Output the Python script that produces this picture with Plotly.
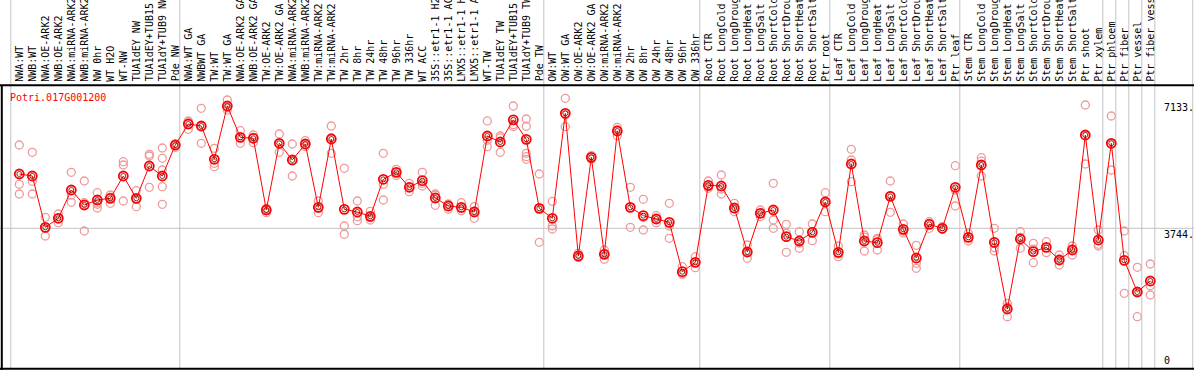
import plotly.graph_objects as go

title = "Potri.017G001200"

categories = [
    "NWA:WT", "NWB:WT", "NWA:OE-ARK2", "NWB:OE-ARK2", "NWA:miRNA-ARK2", "NWB:miRNA-ARK2",
    "NW 0hr", "WT H2O", "WT-NW", "TUA1dEY NW", "TUA1dEY+TUB15 NW", "TUA1dY+TUB9 NW", "Pde NW",
    "NWA:WT GA", "NWBWT GA", "TW:WT", "TW:WT GA", "NWA:OE-ARK2 GA", "NWB:OE-ARK2 GA",
    "TW:OE-ARK2", "TW:OE-ARK2 GA", "NWA:miRNA-ARK2 GA", "NWB:miRNA-ARK2 GA", "TW:miRNA-ARK2",
    "TW:miRNA-ARK2 GA", "TW 2hr", "TW 8hr", "TW 24hr", "TW 48hr", "TW 96hr", "TW 336hr",
    "WT ACC", "35S::etr1-1 H2O", "35S::etr1-1 ACC", "LMX5::etr1-1 H2O", "LMX5::etr1-1 ACC",
    "WT-TW", "TUA1dEY TW", "TUA1dEY+TUB15 TW", "TUA1dY+TUB9 TW", "Pde TW",
    "OW:WT", "OW:WT GA", "OW:OE-ARK2", "OW:OE-ARK2 GA", "OW:miRNA-ARK2", "OW:miRNA-ARK2 GA",
    "OW 2hr", "OW 8hr", "OW 24hr", "OW 48hr", "OW 96hr", "OW 336hr",
    "Root CTR", "Root LongCold", "Root LongDrought", "Root LongHeat", "Root LongSalt",
    "Root ShortCold", "Root ShortDrought", "Root ShortHeat", "Root ShortSalt", "Ptr root",
    "Leaf CTR", "Leaf LongCold", "Leaf LongDrought", "Leaf LongHeat", "Leaf LongSalt",
    "Leaf ShortCold", "Leaf ShortDrought", "Leaf ShortHeat", "Leaf ShortSalt", "Ptr leaf",
    "Stem CTR", "Stem LongCold", "Stem LongDrought", "Stem LongHeat", "Stem LongSalt",
    "Stem ShortCold", "Stem ShortDrought", "Stem ShortHeat", "Stem ShortSalt", "Ptr shoot",
    "Ptr xylem", "Ptr phloem", "Ptr fiber", "Ptr vessel", "Ptr fiber vessel",
]

# index of first category of each group (group separators drawn before these)
group_starts = [0, 13, 41, 53, 63, 73, 84, 85, 86, 87, 88]

mean_values = [
    5189, 5136, 3770, 4010, 4763, 4364, 4497, 4542, 5136, 4542, 5402, 5136, 5961,
    6519, 6466, 5580, 6998, 6165, 6139, 4231, 6006, 5562, 5987, 4302, 6120, 4249,
    4178, 4063, 5048, 5234, 4835, 5011, 4550, 4337, 4302, 4178, 6200, 6041, 6630,
    6112, 4276,
    4010, 6804, 3007, 5633, 3052, 6333, 4302, 4080, 3992, 3903, 2589, 2839,
    4888, 4870, 4284, 3113, 4143, 4231, 3521, 3406, 3637, 4444,
    3105, 5455, 3406, 3361, 4595, 3717, 2954, 3850, 3744, 4835,
    3504, 5428, 3371, 1597, 3459, 3122, 3238, 2901, 3167, 6227, 3433,
    6006, 2892, 2049, 2342,
]

replicates = [
    [5961, 4915, 4657], [5766, 4994, 4657], [4037, 3740, 3539], [4125, 4010, 3893],
    [5234, 4630, 4436], [5003, 4426, 3672], [4692, 4420, 4382, 4284], [4630, 4570, 4409],
    [5517, 5428, 4470], [4745, 4520, 4320], [5713, 5668, 4835], [5881, 5607, 5295, 4852, 4382],
    [5990, 5961, 5899],
    [6600, 6580, 6378], [6937, 6466, 6006], [5873, 5474, 5383], [7158, 6950, 6890],
    [6341, 6165, 6006], [6227, 6165, 6023], [4276, 4258, 4160], [6253, 6000, 5766],
    [5987, 5562, 5136], [6076, 5970, 5916], [4470, 4280, 4160], [6466, 6155, 5740],
    [5341, 3805, 3584], [4470, 4053, 3946], [4196, 4030, 3965], [5740, 4915, 4497],
    [5314, 5234, 5150], [4941, 4840, 4718], [5234, 4941, 4870], [4657, 4630, 4356],
    [4391, 4370, 4249], [4426, 4270, 4213], [4320, 4200, 4010], [6600, 6090, 5916],
    [6200, 6150, 5766], [6998, 6500, 6448], [6653, 6460, 5740, 5650, 5580], [5189, 4270, 3371],
    [4462, 3805, 3725], [7203, 6760, 6448], [3079, 2972, 2970], [5680, 5633, 5590],
    [3167, 3070, 2919], [6432, 6360, 6210], [4835, 4300, 3770], [4515, 4030, 3699],
    [4080, 4000, 3893], [4409, 3805, 3478], [2722, 2528, 2520], [2988, 2830, 2696],
    [5003, 4850, 4808], [5162, 4790, 4657], [4409, 4260, 4186], [3300, 3100, 2946],
    [4231, 4140, 4053], [4941, 3965, 3744], [3850, 3611, 3105], [3654, 3350, 3212],
    [3858, 3640, 3414], [4692, 4450, 4186],
    [3273, 3060, 2988], [5846, 5562, 4984], [3566, 3510, 3140], [3478, 3440, 3167],
    [5003, 4610, 4170], [3858, 3672, 3620], [3291, 2812, 2679], [3920, 3880, 3744],
    [3787, 3730, 3717], [5410, 4760, 4337],
    [3611, 3500, 3406], [5623, 5530, 5136], [3744, 3230, 3140], [1748, 1650, 1392],
    [3654, 3500, 3212], [3345, 3190, 2829], [3388, 3230, 3095], [3034, 2900, 2767],
    [3273, 3190, 3034], [7025, 6208, 5455], [3699, 3318, 3273],
    [6732, 5990, 5295], [3672, 3015, 2014], [2706, 2049, 1392], [2794, 2217, 1969],
]

axis_ticks = [0, 3744, 7133]
axis_tick_text = ["0", "3744.", "7133."]

# ---------------- layout geometry ----------------
W, H = 1194, 370
STEP = 13.0          # px per category
X0 = 19.3            # px of first category
PX_PER_UNIT = 140.7 / 3744.0
ZERO_Y = 369.0       # px (from top) of value 0
x_min = -X0 / STEP
x_max = (W - X0) / STEP
y_min = -(H - ZERO_Y) / PX_PER_UNIT
y_max = ZERO_Y / PX_PER_UNIT
def py(pix_from_top):
    return (H - pix_from_top) / H

FONT = "DejaVu Sans Mono"
n = len(categories)
xs = list(range(n))

rep_x, rep_y = [], []
for i, reps in enumerate(replicates):
    for v in reps:
        rep_x.append(i)
        rep_y.append(v)

fig = go.Figure()
fig.add_trace(go.Scatter(
    x=rep_x, y=rep_y, mode="markers", hoverinfo="skip",
    marker=dict(symbol="circle-open", size=8, color="#EE9A9A", line=dict(width=1.3)),
    cliponaxis=False,
))
fig.add_trace(go.Scatter(
    x=xs, y=mean_values, mode="lines+markers",
    line=dict(color="#FF0000", width=1),
    marker=dict(symbol="circle-open", size=9, color="#FF0000", line=dict(width=1.8)),
    cliponaxis=False,
))
fig.add_trace(go.Scatter(
    x=xs, y=mean_values, mode="markers", hoverinfo="skip",
    marker=dict(symbol="circle-open", size=5, color="#600000", line=dict(width=0.8)),
    cliponaxis=False,
))

shapes = []
grid_col = "#C4C4C4"
for g in group_starts:
    xv = g - 8.5 / STEP
    shapes.append(dict(type="line", xref="x", yref="paper", x0=xv, x1=xv, y0=0, y1=1,
                       line=dict(color=grid_col, width=1), layer="below"))
xr = (1192.7 - X0) / STEP
shapes.append(dict(type="line", xref="x", yref="paper", x0=xr, x1=xr, y0=0, y1=1,
                   line=dict(color=grid_col, width=1), layer="below"))
shapes.append(dict(type="line", xref="paper", yref="y", x0=0, x1=1, y0=axis_ticks[1], y1=axis_ticks[1],
                   line=dict(color=grid_col, width=1), layer="below"))
# black frame lines
shapes.append(dict(type="line", xref="paper", yref="paper", x0=0, x1=1, y0=py(85.3), y1=py(85.3),
                   line=dict(color="black", width=2)))
shapes.append(dict(type="line", xref="paper", yref="paper", x0=1.8 / W, x1=1.8 / W, y0=py(85.3), y1=0,
                   line=dict(color="black", width=2)))
shapes.append(dict(type="line", xref="paper", yref="paper", x0=0, x1=1, y0=py(368.8), y1=py(368.8),
                   line=dict(color="black", width=2)))

annotations = []
for i, lab in enumerate(categories):
    annotations.append(dict(
        x=i, y=py(82.5), xref="x", yref="paper", text=lab, textangle=-90,
        xanchor="center", yanchor="bottom", showarrow=False,
        font=dict(family=FONT, size=10, color="black"), borderpad=0,
    ))
annotations.append(dict(
    x=8.5 / W, y=py(97), xref="paper", yref="paper", text=title, xanchor="left", yanchor="middle",
    showarrow=False, font=dict(family=FONT, size=10, color="#FF0000"), borderpad=0,
))
for v, t in zip(axis_ticks, axis_tick_text):
    if v == 0:
        annotations.append(dict(x=1163 / W, y=py(367), xref="paper", yref="paper", text=t,
                                xanchor="left", yanchor="bottom", showarrow=False,
                                font=dict(family=FONT, size=10, color="black"), borderpad=0))
    else:
        annotations.append(dict(x=1163 / W, y=v, xref="paper", yref="y", text=t,
                                xanchor="left", yanchor="top", showarrow=False,
                                font=dict(family=FONT, size=10, color="black"), borderpad=0))

fig.update_layout(
    width=W, height=H, margin=dict(l=0, r=0, t=0, b=0),
    paper_bgcolor="white", plot_bgcolor="white", showlegend=False,
    xaxis=dict(range=[x_min, x_max], visible=False, showgrid=False, zeroline=False),
    yaxis=dict(range=[y_min, y_max], visible=False, showgrid=False, zeroline=False),
    shapes=shapes, annotations=annotations,
)
fig.write_html(
    "out.html",
    config={"displayModeBar": False},
    post_script="document.body.style.margin='0';document.body.style.overflow='hidden';",
)
